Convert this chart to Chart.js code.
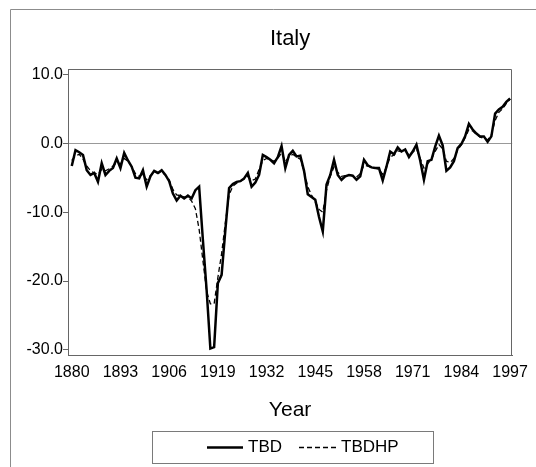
<!DOCTYPE html>
<html>
<head>
<meta charset="utf-8">
<script src="https://cdn.jsdelivr.net/npm/chart.js@4/dist/chart.umd.min.js"></script>
<style>
  html, body { margin: 0; padding: 0; background: #fff; }
  #wrap { position: relative; width: 536px; height: 467px; }
</style>
</head>
<body>
<div id="wrap"><canvas id="c" width="536" height="467"></canvas></div>
<script>
const chartTitle = "Italy";
const xTitle = "Year";
const years = [];
for (let y = 1880; y <= 1997; y++) years.push(y);

const tbd = [
  -3.3, -1.0, -1.3, -1.7, -3.9, -4.6, -4.3, -5.6, -2.9, -4.6,
  -4.0, -3.6, -2.2, -3.6, -1.4, -2.5, -3.4, -5.0, -5.1, -3.9,
  -6.3, -4.8, -4.0, -4.3, -3.9, -4.6, -5.5, -7.3, -8.3, -7.6,
  -8.0, -7.6, -8.0, -6.8, -6.3, -14.0, -21.3, -29.8, -29.6, -20.3,
  -19.1, -12.6, -6.5, -5.9, -5.6, -5.5, -5.1, -4.3, -6.3, -5.7,
  -4.6, -1.7, -2.0, -2.4, -2.9, -2.0, -0.4, -3.6, -1.7, -1.1,
  -1.9, -1.8, -4.0, -7.4, -7.8, -8.2, -10.7, -12.8, -6.0, -4.6,
  -2.4, -4.6, -5.3, -4.8, -4.6, -4.7, -5.3, -4.8, -2.4, -3.2,
  -3.5, -3.6, -3.6, -5.4, -3.4, -1.2, -1.6, -0.6, -1.2, -0.9,
  -2.0, -1.2, -0.2, -2.5, -5.3, -2.6, -2.4, -0.5, 1.1, -0.3,
  -4.0, -3.5, -2.6, -0.7, -0.1, 1.0, 2.8, 2.0, 1.4, 1.0,
  1.0, 0.2, 1.0, 4.3, 4.9, 5.3, 6.0, 6.5
];
const tbdhp = [
  -2.5, -1.8, -1.6, -2.3, -3.3, -4.0, -4.3, -4.5, -3.8, -4.0,
  -3.7, -3.3, -2.8, -3.0, -2.2, -2.6, -3.4, -4.4, -4.8, -4.5,
  -5.3, -4.7, -4.2, -4.3, -4.2, -4.6, -5.3, -6.7, -7.5, -7.6,
  -7.8, -7.8, -8.4, -9.5, -12.5, -17.0, -21.5, -23.3, -23.3, -19.5,
  -16.0, -11.5, -7.5, -6.2, -5.8, -5.5, -5.2, -4.8, -5.4, -5.2,
  -3.8, -2.5, -2.2, -2.4, -2.6, -2.2, -1.4, -2.6, -2.0, -1.6,
  -2.0, -2.3, -4.0, -6.3, -7.5, -8.5, -9.6, -10.0, -6.8, -4.8,
  -3.4, -4.2, -4.8, -4.7, -4.6, -4.7, -4.9, -4.4, -3.2, -3.3,
  -3.5, -3.6, -3.8, -4.5, -3.5, -2.0, -1.7, -1.1, -1.2, -1.1,
  -1.7, -1.3, -0.8, -2.2, -3.6, -3.0, -2.3, -1.2, -0.2, -0.8,
  -2.6, -2.8, -2.2, -1.0, -0.2, 0.8, 2.0, 1.8, 1.3, 0.9,
  0.7, 0.5, 1.2, 3.3, 4.5, 5.0, 5.8, 6.4
];
const xTicks = [1880, 1893, 1906, 1919, 1932, 1945, 1958, 1971, 1984, 1997];
const yTicks = [10, 0, -10, -20, -30];
const seriesNames = ["TBD", "TBDHP"];

const FONT = "'Liberation Sans', Arial, Helvetica, sans-serif";

const decorPlugin = {
  id: 'decor',
  beforeDraw(chart) {
    const ctx = chart.ctx;
    ctx.save();
    ctx.strokeStyle = '#8c8c8c';
    ctx.lineWidth = 1;
    ctx.beginPath();
    ctx.moveTo(10.5, 467);
    ctx.lineTo(10.5, 9.5);
    ctx.lineTo(536, 9.5);
    ctx.stroke();
    ctx.restore();
  },
  afterDraw(chart) {
    const ctx = chart.ctx;
    const a = chart.chartArea;
    const cx = (a.left + a.right) / 2;
    ctx.save();
    ctx.strokeStyle = '#666';
    ctx.lineWidth = 1;
    ctx.beginPath();
    ctx.moveTo(Math.round(a.left) + 0.5, Math.round(a.top) + 0.5);
    ctx.lineTo(Math.round(a.right) - 0.5, Math.round(a.top) + 0.5);
    ctx.lineTo(Math.round(a.right) - 0.5, Math.round(a.bottom));
    ctx.stroke();
    ctx.fillStyle = '#000';
    ctx.textAlign = 'center';
    ctx.textBaseline = 'middle';
    ctx.font = '22px ' + FONT;
    ctx.fillText(chartTitle, cx, 39);
    ctx.font = '21px ' + FONT;
    ctx.fillText(xTitle, cx, 410);
    ctx.strokeStyle = '#7a7a7a';
    ctx.lineWidth = 1;
    ctx.strokeRect(152.5, 431.5, 281, 32);
    const ly = 447.5;
    ctx.strokeStyle = '#000';
    ctx.lineWidth = 2.5;
    ctx.beginPath(); ctx.moveTo(207, ly); ctx.lineTo(243, ly); ctx.stroke();
    ctx.lineWidth = 1.3;
    ctx.setLineDash([5, 3]);
    ctx.beginPath(); ctx.moveTo(299, ly); ctx.lineTo(338, ly); ctx.stroke();
    ctx.setLineDash([]);
    ctx.font = '17px ' + FONT;
    ctx.textAlign = 'left';
    ctx.fillText(seriesNames[0], 248, ly);
    ctx.fillText(seriesNames[1], 341, ly);
    ctx.restore();
  }
};

const toPts = (arr) => arr.map((v, i) => ({ x: years[i], y: v }));

new Chart(document.getElementById('c'), {
  type: 'line',
  data: {
    datasets: [
      { label: seriesNames[0], data: toPts(tbd), borderColor: '#000', borderWidth: 2.5,
        pointRadius: 0, tension: 0, fill: false },
      { label: seriesNames[1], data: toPts(tbdhp), borderColor: '#000', borderWidth: 1.3,
        borderDash: [5, 3], pointRadius: 0, tension: 0, fill: false }
    ]
  },
  options: {
    responsive: false,
    animation: false,
    events: [],
    layout: { padding: { top: 69, left: 0, right: 21, bottom: 82 } },
    plugins: { legend: { display: false }, title: { display: false }, tooltip: { enabled: false } },
    scales: {
      x: {
        type: 'linear',
        min: 1879,
        max: 1997.55,
        afterBuildTicks: (s) => { s.ticks = xTicks.map(v => ({ value: v })); },
        afterFit: (s) => { s.height = 30; },
        grid: { display: true, drawOnChartArea: false, drawTicks: false },
        border: { display: true, color: '#666', width: 1 },
        ticks: { callback: (v) => String(v), color: '#000', padding: 8, maxRotation: 0,
                 autoSkip: false, font: { family: FONT, size: 16 } }
      },
      y: {
        min: -30.73,
        max: 10.78,
        afterBuildTicks: (s) => { s.ticks = yTicks.map(v => ({ value: v })); },
        afterFit: (s) => { s.width = 68; },
        grid: {
          drawOnChartArea: true, drawTicks: true, tickLength: 5,
          color: (c) => (c.tick && c.tick.value === 0 ? '#999' : 'rgba(0,0,0,0)'),
          tickColor: '#666'
        },
        border: { display: true, color: '#666', width: 1 },
        ticks: { callback: (v) => Number(v).toFixed(1), color: '#000', padding: 0,
                 autoSkip: false, font: { family: FONT, size: 16 } }
      }
    }
  },
  plugins: [decorPlugin]
});
</script>
</body>
</html>
